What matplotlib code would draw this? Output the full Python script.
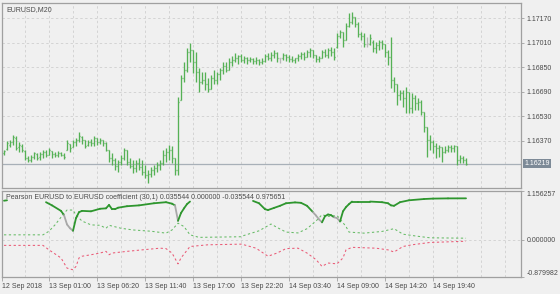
import numpy as np
import matplotlib
matplotlib.use("Agg")
import matplotlib.pyplot as plt
from matplotlib.collections import LineCollection

# ---------------- data ----------------
symbol_title = "EURUSD,M20"
ind_title = "Pearson EURUSD to EURUSD coefficient (30,1) 0.035544 0.000000 -0.035544 0.975651"

open_ = [1.16289,1.16316,1.16342,1.16361,1.16387,1.16329,1.16335,1.16302,1.16257,1.16244,
 1.16263,1.16283,1.16263,1.16283,1.16296,1.16276,1.16302,1.16283,1.16276,1.16289,
 1.16276,1.16309,1.16348,1.16329,1.16361,1.16374,1.16394,1.16374,1.16342,1.16361,
 1.16355,1.16387,1.16361,1.16374,1.16355,1.16309,1.16257,1.16244,1.16204,1.16231,
 1.16257,1.16309,1.16231,1.16204,1.16191,1.16224,1.16198,1.16165,1.16145,1.16152,
 1.16178,1.16191,1.16211,1.16224,1.16276,1.16296,1.16309,1.16257,1.16178,1.16636,
 1.16780,1.16832,1.16950,1.16963,1.16885,1.16819,1.16754,1.16767,1.16741,1.16708,
 1.16780,1.16767,1.16806,1.16832,1.16858,1.16832,1.16885,1.16898,1.16911,1.16924,
 1.16898,1.16911,1.16898,1.16904,1.16891,1.16898,1.16885,1.16891,1.16924,1.16911,
 1.16930,1.16943,1.16911,1.16911,1.16930,1.16917,1.16904,1.16898,1.16911,1.16924,
 1.16937,1.16917,1.16950,1.16963,1.16930,1.16904,1.16911,1.16950,1.16930,1.16963,
 1.16950,1.16983,1.17055,1.17081,1.17028,1.17120,1.17146,1.17179,1.17133,1.17068,
 1.17055,1.17002,1.17002,1.17015,1.16976,1.16996,1.17015,1.17002,1.16950,1.16917,
 1.16767,1.16741,1.16669,1.16682,1.16649,1.16688,1.16584,1.16649,1.16616,1.16623,
 1.16558,1.16459,1.16374,1.16361,1.16335,1.16322,1.16329,1.16296,1.16309,1.16329,
 1.16322,1.16335,1.16244,1.16257,1.16244]

high = [1.16309,1.16368,1.16374,1.16407,1.16401,1.16361,1.16348,1.16309,1.16270,1.16276,
 1.16296,1.16289,1.16296,1.16309,1.16309,1.16322,1.16302,1.16296,1.16302,1.16296,
 1.16289,1.16374,1.16348,1.16374,1.16387,1.16427,1.16401,1.16374,1.16374,1.16381,
 1.16401,1.16387,1.16387,1.16374,1.16361,1.16309,1.16289,1.16257,1.16244,1.16276,
 1.16322,1.16309,1.16257,1.16244,1.16244,1.16257,1.16244,1.16211,1.16178,1.16198,
 1.16211,1.16231,1.16244,1.16309,1.16322,1.16342,1.16335,1.16257,1.16656,1.16800,
 1.16885,1.16976,1.17009,1.16963,1.16950,1.16845,1.16819,1.16819,1.16780,1.16800,
 1.16832,1.16819,1.16845,1.16885,1.16885,1.16911,1.16924,1.16943,1.16930,1.16937,
 1.16924,1.16917,1.16917,1.16911,1.16917,1.16904,1.16911,1.16937,1.16943,1.16950,
 1.16963,1.16950,1.16911,1.16943,1.16937,1.16930,1.16924,1.16911,1.16937,1.16950,
 1.16950,1.16963,1.16976,1.16963,1.16930,1.16924,1.16963,1.16970,1.16976,1.16983,
 1.16976,1.17074,1.17094,1.17081,1.17140,1.17205,1.17212,1.17179,1.17146,1.17081,
 1.17074,1.17048,1.17068,1.17028,1.17015,1.17028,1.17028,1.17002,1.16963,1.17048,
 1.16786,1.16741,1.16701,1.16701,1.16721,1.16688,1.16682,1.16669,1.16649,1.16636,
 1.16558,1.16459,1.16407,1.16374,1.16355,1.16342,1.16329,1.16335,1.16342,1.16342,
 1.16342,1.16335,1.16276,1.16270,1.16257]

low = [1.16276,1.16309,1.16329,1.16342,1.16309,1.16296,1.16296,1.16244,1.16231,1.16231,
 1.16250,1.16244,1.16244,1.16257,1.16263,1.16276,1.16257,1.16263,1.16263,1.16270,
 1.16250,1.16309,1.16296,1.16329,1.16335,1.16361,1.16348,1.16322,1.16335,1.16335,
 1.16335,1.16342,1.16348,1.16335,1.16302,1.16231,1.16211,1.16178,1.16165,1.16211,
 1.16244,1.16211,1.16191,1.16159,1.16165,1.16178,1.16145,1.16126,1.16093,1.16132,
 1.16145,1.16165,1.16178,1.16211,1.16231,1.16244,1.16224,1.16145,1.16145,1.16636,
 1.16754,1.16819,1.16885,1.16813,1.16754,1.16688,1.16741,1.16701,1.16688,1.16708,
 1.16741,1.16741,1.16767,1.16806,1.16819,1.16832,1.16858,1.16885,1.16871,1.16885,
 1.16878,1.16871,1.16885,1.16871,1.16871,1.16865,1.16871,1.16885,1.16898,1.16891,
 1.16911,1.16885,1.16878,1.16898,1.16891,1.16885,1.16885,1.16878,1.16891,1.16904,
 1.16898,1.16917,1.16917,1.16911,1.16885,1.16885,1.16911,1.16917,1.16911,1.16924,
 1.16898,1.16976,1.17041,1.16983,1.17028,1.17113,1.17133,1.17113,1.17048,1.17028,
 1.16983,1.16983,1.16996,1.16950,1.16943,1.16963,1.16970,1.16917,1.16865,1.16714,
 1.16688,1.16603,1.16636,1.16590,1.16551,1.16551,1.16551,1.16571,1.16571,1.16538,
 1.16427,1.16263,1.16309,1.16289,1.16257,1.16263,1.16231,1.16289,1.16296,1.16296,
 1.16296,1.16211,1.16224,1.16224,1.16211]

close = [1.16302,1.16355,1.16361,1.16394,1.16322,1.16342,1.16309,1.16257,1.16244,1.16263,
 1.16289,1.16257,1.16283,1.16296,1.16276,1.16309,1.16283,1.16276,1.16289,1.16276,
 1.16263,1.16355,1.16322,1.16361,1.16374,1.16401,1.16374,1.16335,1.16361,1.16355,
 1.16387,1.16361,1.16374,1.16355,1.16309,1.16257,1.16244,1.16204,1.16231,1.16257,
 1.16309,1.16231,1.16204,1.16191,1.16224,1.16198,1.16165,1.16145,1.16152,1.16178,
 1.16191,1.16211,1.16224,1.16276,1.16296,1.16309,1.16257,1.16178,1.16623,1.16780,
 1.16832,1.16950,1.16963,1.16885,1.16819,1.16754,1.16767,1.16741,1.16708,1.16780,
 1.16767,1.16806,1.16832,1.16858,1.16832,1.16885,1.16898,1.16911,1.16924,1.16898,
 1.16911,1.16898,1.16904,1.16891,1.16898,1.16885,1.16891,1.16924,1.16911,1.16930,
 1.16943,1.16911,1.16911,1.16930,1.16917,1.16904,1.16898,1.16911,1.16924,1.16937,
 1.16917,1.16950,1.16963,1.16930,1.16904,1.16911,1.16950,1.16930,1.16963,1.16950,
 1.16917,1.17055,1.17081,1.17028,1.17120,1.17146,1.17179,1.17133,1.17068,1.17055,
 1.17002,1.17002,1.17041,1.16976,1.16996,1.17015,1.17002,1.16950,1.16917,1.16767,
 1.16741,1.16669,1.16682,1.16649,1.16688,1.16584,1.16649,1.16616,1.16623,1.16558,
 1.16459,1.16374,1.16361,1.16335,1.16322,1.16329,1.16296,1.16309,1.16329,1.16322,
 1.16335,1.16244,1.16257,1.16244,1.16219]

price_ticks = [1.16370, 1.16530, 1.16690, 1.16850, 1.17010, 1.17170]
price_min, price_max = 1.160585, 1.172736

# time axis labels (bar index -> label)
time_label_idx = [15, 31, 47, 63, 79, 95, 111, 127, 143]
time_labels = ["13 Sep 01:00", "13 Sep 06:20", "13 Sep 11:40", "13 Sep 17:00", "13 Sep 22:20",
               "14 Sep 03:40", "14 Sep 09:00", "14 Sep 14:20", "14 Sep 19:40"]
first_label = "12 Sep 2018"

# indicator: Pearson coefficient (solid), + band (green dashed), - band (red dashed)
coef_idx = [0, 1, 2, 14, 16, 19, 20, 21, 22, 23, 24, 25, 26, 29, 32, 34, 35, 36, 37, 38, 41, 45, 50,
            54, 56, 57, 58, 59, 60, 61, 62, 63, 83, 85, 87, 88, 90, 92, 94, 97, 99, 101, 103, 104,
            105, 106, 107, 108, 109, 110, 111, 112, 113, 114, 115, 116, 118, 122, 126, 128, 129,
            130, 132, 135, 140, 143, 148, 154]
coef_val = [0.92, 0.93, np.nan, 0.885, 0.81, 0.68, 0.58, 0.36, 0.27, 0.21, 0.51, 0.65, 0.68, 0.67,
            0.73, 0.74, 0.82, 0.72, 0.72, 0.755, 0.79, 0.81, 0.86, 0.885, 0.85, 0.81, 0.445, 0.63,
            0.74, 0.84, 0.90, np.nan, 0.915, 0.86, 0.72, 0.70, 0.75, 0.80, 0.86, 0.88, 0.87, 0.80,
            0.65, 0.57, 0.48, 0.41, 0.555, 0.595, 0.58, 0.53, 0.51, 0.43, 0.67, 0.77, 0.84, 0.90,
            0.90, 0.90, 0.885, 0.86, 0.81, 0.80, 0.885, 0.93, 0.96, 0.97, 0.975, 0.976]
# segments starting at these bar indices are drawn in grey (falling phase)
coef_grey_from = [20, 21, 22, 57, 103, 104, 105, 110, 111]

up_idx = [0, 13, 15, 17, 18, 20, 21, 23, 24, 26, 29, 32, 34, 35, 39, 43, 49, 54, 56, 58, 60, 62, 65,
          79, 80, 85, 89, 91, 94, 98, 101, 104, 106, 108, 111, 112, 114, 115, 120, 126, 130, 133,
          138, 142, 154]
up_val = [0.115, 0.115, 0.20, 0.35, 0.44, 0.62, 0.70, 0.70, 0.58, 0.44, 0.35, 0.34, 0.27, 0.34,
          0.27, 0.23, 0.20, 0.155, 0.23, 0.39, 0.31, 0.115, 0.055, 0.07, 0.10, 0.21, 0.37, 0.29,
          0.18, 0.16, 0.26, 0.44, 0.59, 0.55, 0.57, 0.49, 0.31, 0.18, 0.155, 0.195, 0.26, 0.13,
          0.08, 0.045, 0.0355]

dn_idx = [0, 13, 15, 19, 21, 23, 24, 25, 26, 29, 32, 34, 35, 36, 41, 46, 52, 54, 56, 58, 59, 62,
          68, 79, 80, 84, 88, 91, 94, 98, 101, 104, 106, 108, 111, 113, 114, 116, 124, 128, 130,
          133, 136, 142, 154]
dn_val = [-0.134, -0.134, -0.24, -0.43, -0.67, -0.71, -0.63, -0.43, -0.39, -0.355, -0.315, -0.275,
          -0.355, -0.315, -0.275, -0.24, -0.20, -0.21, -0.315, -0.57, -0.43, -0.16, -0.12, -0.105,
          -0.12, -0.20, -0.39, -0.315, -0.21, -0.20, -0.315, -0.47, -0.63, -0.55, -0.57, -0.43,
          -0.24, -0.18, -0.20, -0.24, -0.29, -0.16, -0.12, -0.065, -0.036]

ind_min, ind_max = -0.879982, 1.156257

# ---------------- style ----------------
BG = "#f0f0f0"
FRAME = "#a0a0a0"
TXT = "#4a4a4a"
GRID = "#d4d4d4"
BAR = "#55b155"
DOJI = "#b8b8b8"
FONT = "Liberation Sans"
FS = 5.0

W, H = 560, 294
fig = plt.figure(figsize=(W / 100, H / 100), dpi=100, facecolor=BG)

def px_axes(x0, y0, x1, y1):
    return fig.add_axes([x0 / W, 1 - y1 / H, (x1 - x0) / W, (y1 - y0) / H])

ax = px_axes(2, 2.5, 521, 188.3)
ax2 = px_axes(2, 190.7, 521, 277)

n = len(close)
idx = np.arange(n)
xlim = (-0.67, 172.33)

for a in (ax, ax2):
    a.set_facecolor(BG)
    a.set_xlim(*xlim)
    for s in a.spines.values():
        s.set_color(FRAME)
        s.set_linewidth(0.9)
    a.yaxis.tick_right()
    a.tick_params(axis="y", direction="out", length=2.5, width=0.6, color=FRAME,
                  labelsize=FS, labelcolor=TXT, pad=1.5)
    grid_x = list(range(7, 172, 8))
    for g in grid_x:
        a.axvline(g, color=GRID, lw=0.7, ls=(0, (2.5, 2.5)), zorder=0)

# ---- main OHLC bars ----
segs, cols = [], []
for i in range(n):
    c = DOJI if open_[i] == close[i] else BAR
    segs.append([(idx[i], low[i]), (idx[i], high[i])])
    segs.append([(idx[i] - 0.45, open_[i]), (idx[i], open_[i])])
    segs.append([(idx[i], close[i]), (idx[i] + 0.45, close[i])])
    cols += [c, c, c]
ax.add_collection(LineCollection(segs, colors=cols, linewidths=0.95, zorder=3))
ax.set_ylim(price_min, price_max)
ax.set_yticks(price_ticks)
ax.set_yticklabels([f"{p:.5f}" for p in price_ticks], fontfamily=FONT)
for p in price_ticks:
    ax.axhline(p, color=GRID, lw=0.7, ls=(0, (2.5, 2.5)), zorder=0)
ax.set_xticks([])
ax.axhline(close[-1], color="#a8b0b8", lw=0.9, zorder=2)
ax.text(1.0 + 3 / 519, close[-1], f"{close[-1]:.5f}", transform=ax.get_yaxis_transform(),
        fontsize=FS, fontfamily=FONT, color="white", va="center", ha="left",
        bbox=dict(boxstyle="square,pad=0.15", fc="#7d8a97", ec="none"), clip_on=False)
ax.text(4 / 519, 1 - 4 / 186, symbol_title, transform=ax.transAxes, fontsize=FS,
        fontfamily=FONT, color=TXT, va="top", ha="left")

# ---- indicator ----
ax2.set_ylim(ind_min, ind_max)
ax2.axhline(0, color=GRID, lw=0.7, ls=(0, (2.5, 2.5)), zorder=0)
ax2.plot(up_idx, up_val, color="#66bb66", lw=0.75, ls=(0, (2.2, 2.4)), zorder=2)
ax2.plot(dn_idx, dn_val, color="#ea5a76", lw=0.75, ls=(0, (2.2, 2.4)), zorder=2)

cseg, ccol = [], []
for k in range(len(coef_idx) - 1):
    v0, v1 = coef_val[k], coef_val[k + 1]
    if np.isnan(v0) or np.isnan(v1):
        continue
    cseg.append([(coef_idx[k], v0), (coef_idx[k + 1], v1)])
    ccol.append("#a8a8a8" if coef_idx[k] in coef_grey_from else "#2e962e")
ax2.add_collection(LineCollection(cseg, colors=ccol, linewidths=1.3, zorder=3,
                                  capstyle="round", joinstyle="round"))

ax2.set_yticks([ind_min, 0.0, ind_max])
ax2.set_yticklabels([f"{ind_min:.6f}", "0.000000", f"{ind_max:.6f}"], fontfamily=FONT)
labs = ax2.get_yticklabels()
labs[0].set_verticalalignment("bottom")
labs[2].set_verticalalignment("top")

ax2.set_xticks([xlim[0]] + time_label_idx)
ax2.set_xticklabels([first_label] + time_labels, fontfamily=FONT)
ax2.tick_params(axis="x", direction="out", length=3, width=0.6, color=FRAME,
                labelsize=FS, labelcolor=TXT, pad=1.0)
for lb in ax2.get_xticklabels():
    lb.set_horizontalalignment("left")

ax2.text(4 / 519, 1 - 3 / 86.3, ind_title, transform=ax2.transAxes, fontsize=FS,
         fontfamily=FONT, color=TXT, va="top", ha="left")

fig.savefig("out.png", dpi=100, facecolor=BG)
